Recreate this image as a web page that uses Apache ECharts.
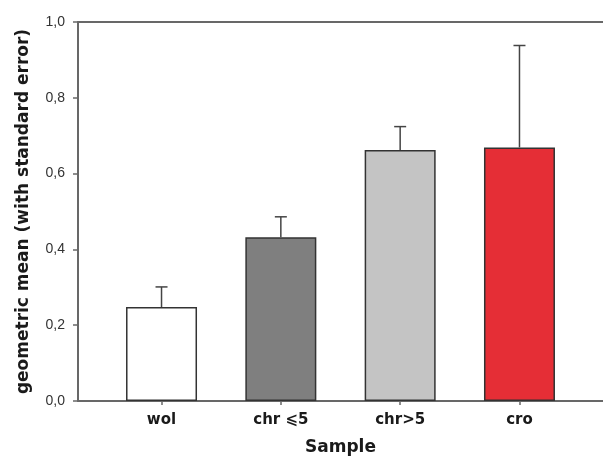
<!DOCTYPE html>
<html>
<head>
<meta charset="utf-8">
<script src="https://cdn.jsdelivr.net/npm/echarts@6/dist/echarts.min.js"></script>
<style>html,body{margin:0;padding:0;background:#fff;}#c{width:603px;height:457px;}</style>
</head>
<body>
<div id="c"></div>
<script>
const categories = ['wol', 'chr \u2A7D5', 'chr>5', 'cro'];
const means = [0.248, 0.432, 0.662, 0.669];
const upperErrors = [0.301, 0.486, 0.724, 0.938];
const barColors = ['#ffffff', '#7f7f7f', '#c4c4c4', '#e52e36'];
const yTicks = [0, 0.2, 0.4, 0.6, 0.8, 1.0];

const chart = echarts.init(document.getElementById('c'));
const axisColor = '#686868';
const fontFam = 'DejaVu Sans';
chart.setOption({
  animation: false,
  backgroundColor: '#fff',
  grid: { left: 78, right: 0, top: 22, bottom: 56, containLabel: false, outerBoundsMode: 'none' },
  xAxis: [{
    type: 'value', min: -0.7, max: 3.7,
    name: 'Sample', nameLocation: 'middle', nameGap: 38,
    nameTextStyle: { fontFamily: fontFam, fontWeight: 'bold', fontSize: 17, color: '#1a1a1a' },
    splitLine: { show: false },
    axisLine: { show: true, onZero: false, lineStyle: { color: axisColor, width: 2 } },
    axisTick: { show: true, length: 4, inside: false, customValues: [0, 1, 2, 3], lineStyle: { color: axisColor, width: 1.5 } },
    axisLabel: {
      customValues: [0, 1, 2, 3], margin: 12,
      formatter: v => categories[Math.round(v)],
      fontFamily: fontFam, fontWeight: 'bold', fontSize: 15, color: '#1a1a1a'
    }
  }, {
    type: 'value', min: -0.7, max: 3.7, position: 'top',
    splitLine: { show: false },
    axisLine: { show: true, onZero: false, lineStyle: { color: axisColor, width: 2 } },
    axisTick: { show: false }, axisLabel: { show: false }
  }],
  yAxis: {
    type: 'value', min: 0, max: 1, interval: 0.2,
    name: 'geometric mean (with standard error)', nameLocation: 'middle', nameGap: 46,
    nameTextStyle: { fontFamily: fontFam, fontWeight: 'bold', fontSize: 17, color: '#1a1a1a' },
    splitLine: { show: false },
    axisLine: { show: true, onZero: false, lineStyle: { color: axisColor, width: 2 } },
    axisTick: { show: true, length: 5, lineStyle: { color: axisColor, width: 1.5 } },
    axisLabel: {
      margin: 13, fontFamily: 'Liberation Sans', fontSize: 14, color: '#333',
      formatter: v => v.toFixed(1).replace('.', ',')
    }
  },
  series: [{
    type: 'bar',
    barWidth: 71,
    data: means.map((m, i) => ({
      value: [i, m],
      itemStyle: { color: barColors[i], borderColor: '#333', borderWidth: 1.5 }
    }))
  }, {
    type: 'custom',
    data: means.map((m, i) => [i, m, upperErrors[i]]),
    renderItem: (params, api) => {
      const base = api.coord([api.value(0), api.value(1)]);
      const top = api.coord([api.value(0), api.value(2)]);
      const style = { stroke: '#444', lineWidth: 1.5 };
      return {
        type: 'group',
        children: [
          { type: 'line', shape: { x1: base[0], y1: base[1], x2: top[0], y2: top[1] }, style },
          { type: 'line', shape: { x1: top[0] - 6, y1: top[1], x2: top[0] + 6, y2: top[1] }, style }
        ]
      };
    },
    z: 3
  }]
});
</script>
</body>
</html>
